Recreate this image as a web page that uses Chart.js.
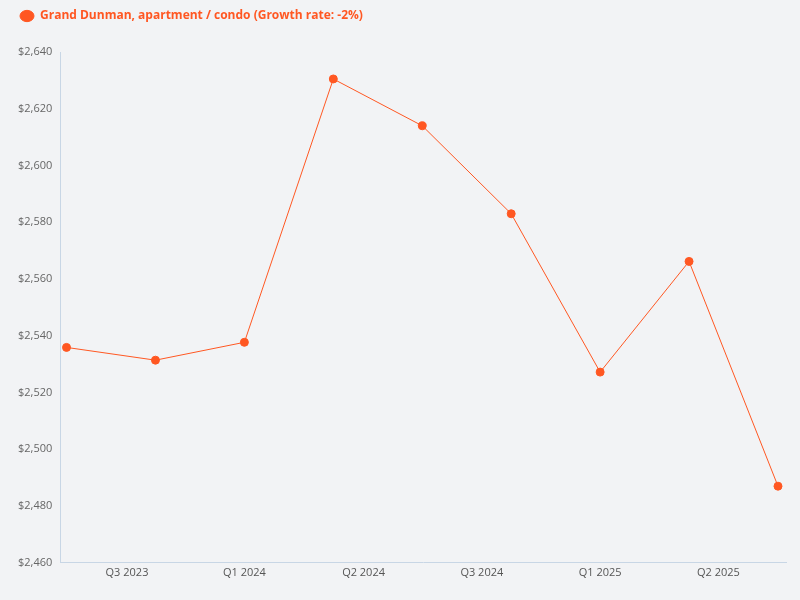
<!DOCTYPE html>
<html><head><meta charset="utf-8">
<script src="https://cdn.jsdelivr.net/npm/chart.js@4/dist/chart.umd.min.js"></script>
<style>html,body{margin:0;background:#f2f3f5;}#w{width:800px;height:600px;}</style>
</head><body><div id="w"><canvas id="c"></canvas></div>
<script>
const seriesName = 'Grand Dunman, apartment / condo (Growth rate: -2%)';
const values = [2535.9, 2531.4, 2537.7, 2630.5, 2614, 2583, 2527.2, 2566.2, 2487];
const tickLabels = ['Q3 2023','Q1 2024','Q2 2024','Q3 2024','Q1 2025','Q2 2025'];
const tickPositions = [0.68, 2.0, 3.34, 4.67, 6.0, 7.33];
const yTicks = [2460,2480,2500,2520,2540,2560,2580,2600,2620,2640];
const color = '#ff5722';
new Chart(document.getElementById('c'), {
  type: 'line',
  data: { datasets: [{ label: seriesName, data: values.map((v,i)=>({x:i,y:v})),
    borderColor: color, backgroundColor: color, borderWidth: 1, pointRadius: 4, pointHoverRadius: 4, tension: 0, pointStyle: 'circle' }] },
  options: {
    responsive: true, maintainAspectRatio: false, animation: false,
    layout: { padding: { left: 10, right: 14, top: 0, bottom: 18 } },
    plugins: { legend: { position: 'top', align: 'start',
      labels: { color: color, font: { family: 'Open Sans', size: 12, weight: 'bold' }, usePointStyle: true, pointStyleWidth: 14, boxHeight: 8, padding: 10 },
      afterFit: undefined },
      tooltip: { enabled: false } },
    scales: {
      x: { type: 'linear', min: -0.07, max: 8.09,
        afterBuildTicks: s => { s.ticks = tickPositions.map(v => ({ value: v })); },
        ticks: { callback: (v, i) => tickLabels[i], color: '#555', font: { family: 'Open Sans', size: 11 }, maxRotation: 0, autoSkip: false },
        grid: { display: false, drawTicks: false }, border: { color: '#c8d6e5' } },
      y: { min: 2460, max: 2640,
        afterBuildTicks: s => { s.ticks = yTicks.map(v => ({ value: v })); },
        ticks: { callback: v => '$' + v.toLocaleString('en-US'), color: '#666', font: { family: 'Open Sans', size: 11 }, padding: 8 },
        grid: { display: false, drawTicks: false }, border: { color: '#c8d6e5' } }
    }
  },
  plugins: [{ id: 'legendGap', beforeInit(chart) {
    const orig = chart.legend.fit;
    chart.legend.fit = function () { orig.call(this); this.height += 20; };
  } }]
});
</script></body></html>
